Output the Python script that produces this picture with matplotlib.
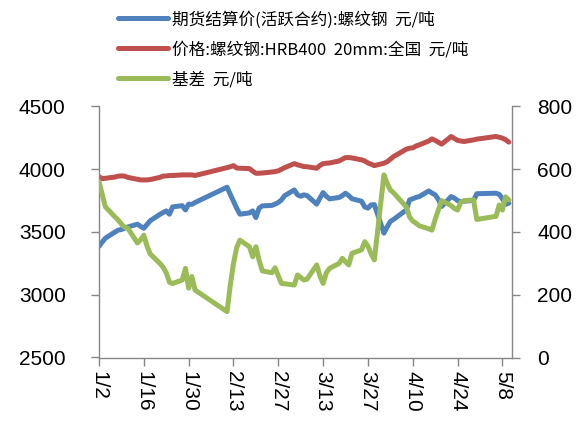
import pandas as pd
import matplotlib
matplotlib.use('Agg')
import matplotlib.pyplot as plt

# trading days (2019)
dates = [
    '2019-01-02', '2019-01-03', '2019-01-04', '2019-01-07', '2019-01-08', '2019-01-09',
    '2019-01-10', '2019-01-11', '2019-01-14', '2019-01-15', '2019-01-16', '2019-01-17',
    '2019-01-18', '2019-01-21', '2019-01-22', '2019-01-23', '2019-01-24', '2019-01-25',
    '2019-01-28', '2019-01-29', '2019-01-30', '2019-01-31', '2019-02-01', '2019-02-11',
    '2019-02-12', '2019-02-13', '2019-02-14', '2019-02-15', '2019-02-18', '2019-02-19',
    '2019-02-20', '2019-02-21', '2019-02-22', '2019-02-25', '2019-02-26', '2019-02-27',
    '2019-02-28', '2019-03-01', '2019-03-04', '2019-03-05', '2019-03-06', '2019-03-07',
    '2019-03-08', '2019-03-11', '2019-03-12', '2019-03-13', '2019-03-14', '2019-03-15',
    '2019-03-18', '2019-03-19', '2019-03-20', '2019-03-21', '2019-03-22', '2019-03-25',
    '2019-03-26', '2019-03-27', '2019-03-28', '2019-03-29', '2019-04-01', '2019-04-02',
    '2019-04-03', '2019-04-04', '2019-04-08', '2019-04-09', '2019-04-10', '2019-04-11',
    '2019-04-12', '2019-04-15', '2019-04-16', '2019-04-17', '2019-04-18', '2019-04-19',
    '2019-04-22', '2019-04-23', '2019-04-24', '2019-04-25', '2019-04-26', '2019-04-29',
    '2019-04-30', '2019-05-06', '2019-05-07', '2019-05-08', '2019-05-09', '2019-05-10',
]

# 期货结算价(活跃合约):螺纹钢
futures = [
    3386, 3420, 3451, 3500, 3515, 3520, 3530, 3540, 3562, 3545, 3530, 3560,
    3590, 3640, 3655, 3668, 3642, 3700, 3710, 3676, 3722, 3720, 3735, 3857,
    3800, 3745, 3690, 3642, 3652, 3668, 3615, 3690, 3708, 3712, 3722, 3735,
    3756, 3790, 3835, 3796, 3785, 3796, 3790, 3722, 3770, 3814, 3785, 3764,
    3775, 3790, 3809, 3790, 3765, 3745, 3700, 3690, 3716, 3718, 3491, 3540,
    3584, 3600, 3676, 3756, 3765, 3775, 3782, 3827, 3810, 3796, 3760, 3703,
    3782, 3770, 3750, 3742, 3745, 3752, 3805, 3809, 3800, 3765, 3720, 3730,
]

# 价格:螺纹钢:HRB400 20mm:全国
spot = [
    3941, 3925, 3928, 3938, 3945, 3947, 3945, 3935, 3920, 3915, 3915, 3915,
    3918, 3935, 3945, 3947, 3950, 3950, 3955, 3955, 3955, 3955, 3950, 4013,
    4020, 4029, 4010, 4008, 4005, 3985, 3968, 3968, 3970, 3978, 3982, 3987,
    4000, 4013, 4045, 4035, 4029, 4021, 4020, 4008, 4030, 4045, 4048, 4050,
    4066, 4080, 4093, 4093, 4090, 4075, 4066, 4050, 4040, 4029, 4048, 4060,
    4080, 4101, 4160, 4168, 4170, 4185, 4194, 4225, 4242, 4230, 4215, 4200,
    4261, 4245, 4230, 4225, 4221, 4234, 4240, 4261, 4255, 4248, 4235, 4216,
]

# 基差
basis = [
    560, 520, 480, 448, 438, 425, 415, 412, 365, 375, 390, 355,
    330, 300, 288, 270, 240, 236, 247, 284, 221, 258, 215, 146,
    230, 300, 350, 374, 353, 321, 353, 310, 276, 270, 286, 260,
    236, 235, 231, 263, 255, 247, 250, 295, 260, 236, 270, 284,
    300, 316, 305, 295, 332, 343, 369, 355, 330, 311, 582, 555,
    534, 525, 480, 448, 435, 428, 420, 410, 406, 440, 470, 500,
    484, 475, 470, 495, 500, 502, 440, 450, 486, 470, 512, 502,
]

labels = ['期货结算价(活跃合约):螺纹钢  元/吨',
          '价格:螺纹钢:HRB400  20mm:全国  元/吨',
          '基差  元/吨']

df = pd.DataFrame({'date': pd.to_datetime(dates), 'futures': futures,
                   'spot': spot, 'basis': basis})

plt.rcParams['font.family'] = ['Liberation Sans', 'Noto Sans CJK SC', 'DejaVu Sans']
grey = '#868686'

fig = plt.figure(figsize=(5.85, 4.33), dpi=100)
ax = fig.add_axes([99 / 585, 1 - 357.5 / 433, 413 / 585, 251 / 433])
ax2 = ax.twinx()

l1, = ax.plot(df['date'], df['futures'], color='#4F81BD', lw=3.6, solid_capstyle='round')
l2, = ax.plot(df['date'], df['spot'], color='#C0504D', lw=3.6, solid_capstyle='round')
l3, = ax2.plot(df['date'], df['basis'], color='#9BBB59', lw=3.6, solid_capstyle='round')

ax.set_ylim(2500, 4500)
ax.set_yticks([2500, 3000, 3500, 4000, 4500])
ax2.set_ylim(0, 800)
ax2.set_yticks([0, 200, 400, 600, 800])
ax.set_xlim(pd.Timestamp('2019-01-02'), pd.Timestamp('2019-05-11'))

ticks = pd.date_range('2019-01-02', '2019-05-08', freq='14D')
ax.set_xticks(ticks)
ax.set_xticklabels([f'{t.month}/{t.day}' for t in ticks], rotation=270,
                   ha='center', va='top')

for a in (ax, ax2):
    a.spines['top'].set_visible(False)
    for s in ('left', 'right', 'bottom'):
        a.spines[s].set_color(grey)
        a.spines[s].set_linewidth(1.0)
    a.tick_params(colors=grey, labelcolor='black', labelsize=15, length=6, width=1.0)
ax.spines['right'].set_visible(False)
ax2.spines['left'].set_visible(False)
ax2.spines['bottom'].set_visible(False)
ax.tick_params(axis='y', pad=18)
ax2.tick_params(axis='y', pad=12)
ax.tick_params(axis='x', pad=4)

fig.legend([l1, l2, l3], labels, loc='upper left', bbox_to_anchor=(107 / 585, 1.0),
           frameon=False, prop={'family': ['Noto Sans CJK SC', 'DejaVu Sans'], 'size': 12},
           handlelength=3.0, handletextpad=0.25, labelspacing=0.78, borderaxespad=0.25)

fig.savefig('out.png', dpi=100)
